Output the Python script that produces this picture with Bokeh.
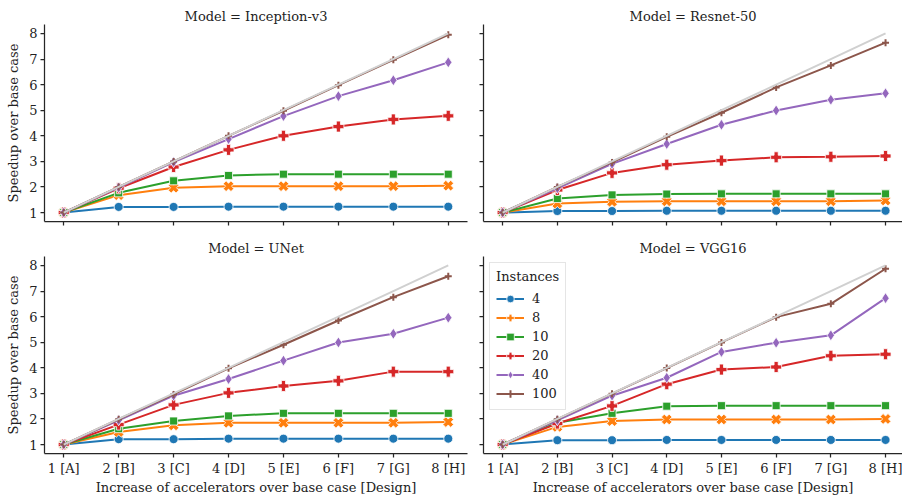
from bokeh.plotting import figure
from bokeh.layouts import gridplot
from bokeh.models import FixedTicker, Legend, LegendItem, Range1d
from bokeh.embed import file_html
from bokeh.resources import INLINE
import math

# ---------------- data ----------------
x_vals = [1, 2, 3, 4, 5, 6, 7, 8]
x_labels = ["1 [A]", "2 [B]", "3 [C]", "4 [D]", "5 [E]", "6 [F]", "7 [G]", "8 [H]"]
y_ticks = [1, 2, 3, 4, 5, 6, 7, 8]
ideal = [1, 2, 3, 4, 5, 6, 7, 8]
instances = ["4", "8", "10", "20", "40", "100"]
models = ["Inception-v3", "Resnet-50", "UNet", "VGG16"]

inception_v3 = {
    "4":   [1, 1.22, 1.22, 1.23, 1.23, 1.23, 1.23, 1.23],
    "8":   [1, 1.68, 1.97, 2.03, 2.03, 2.03, 2.03, 2.05],
    "10":  [1, 1.77, 2.24, 2.45, 2.50, 2.50, 2.50, 2.50],
    "20":  [1, 1.95, 2.78, 3.45, 4.00, 4.36, 4.64, 4.78],
    "40":  [1, 1.98, 2.97, 3.87, 4.77, 5.55, 6.17, 6.87],
    "100": [1, 2.00, 3.00, 4.00, 4.98, 5.98, 6.97, 7.95],
}
resnet_50 = {
    "4":   [1, 1.06, 1.06, 1.07, 1.07, 1.07, 1.07, 1.07],
    "8":   [1, 1.35, 1.42, 1.44, 1.44, 1.44, 1.44, 1.47],
    "10":  [1, 1.55, 1.69, 1.72, 1.73, 1.73, 1.73, 1.73],
    "20":  [1, 1.88, 2.55, 2.87, 3.03, 3.16, 3.18, 3.21],
    "40":  [1, 1.95, 2.90, 3.68, 4.43, 4.99, 5.41, 5.66],
    "100": [1, 2.00, 2.96, 3.96, 4.90, 5.89, 6.75, 7.64],
}
unet = {
    "4":   [1, 1.21, 1.21, 1.23, 1.23, 1.23, 1.23, 1.23],
    "8":   [1, 1.49, 1.75, 1.85, 1.85, 1.85, 1.85, 1.88],
    "10":  [1, 1.62, 1.92, 2.12, 2.22, 2.22, 2.22, 2.22],
    "20":  [1, 1.78, 2.55, 3.02, 3.29, 3.49, 3.85, 3.85],
    "40":  [1, 1.95, 2.91, 3.56, 4.28, 4.99, 5.33, 5.96],
    "100": [1, 1.99, 2.96, 3.98, 4.90, 5.85, 6.76, 7.58],
}
vgg16 = {
    "4":   [1, 1.17, 1.17, 1.18, 1.18, 1.18, 1.18, 1.18],
    "8":   [1, 1.69, 1.92, 1.98, 1.98, 1.98, 1.98, 2.00],
    "10":  [1, 1.85, 2.22, 2.50, 2.52, 2.52, 2.52, 2.52],
    "20":  [1, 1.82, 2.51, 3.36, 3.93, 4.03, 4.47, 4.53],
    "40":  [1, 1.95, 2.91, 3.61, 4.62, 4.98, 5.27, 6.72],
    "100": [1, 1.99, 2.99, 3.99, 4.99, 5.98, 6.50, 7.87],
}
model_data = [inception_v3, resnet_50, unet, vgg16]

# ---------------- styles ----------------
colors = ["#1f77b4", "#ff7f0e", "#2ca02c", "#d62728", "#9467bd", "#8c564b"]
markers = ["circle", "plus", "square", "plus", "diamond", "cross"]
angles = [0, math.pi / 4, 0, 0, 0, 0]
sizes = [9, 11, 8, 11, 11, 7]
FONT = "DejaVu Serif"
FS = "13px"
AX = "#262626"


def make(idx, left, bottom, with_legend=False):
    model = models[idx]
    data = model_data[idx]
    width = 475 if left else 427
    height = 232 if not bottom else 267
    x_end = 8.35 if left else 8.31
    p = figure(width=width, height=height,
               x_range=Range1d(0.65, x_end), y_range=Range1d(0.65, 8.35),
               output_backend="svg", toolbar_location=None,
               min_border_left=44 if left else 8,
               min_border_right=8 if left else 0,
               min_border_top=24,
               min_border_bottom=46 if bottom else 11)
    p.title.text = f"Model = {model}"
    p.title.align = "center"
    p.title.text_font = FONT
    p.title.text_font_size = FS
    p.title.text_font_style = "normal"
    p.title.text_color = "#222222"
    p.title.standoff = 2
    p.outline_line_color = None
    p.xgrid.visible = False
    p.ygrid.visible = False
    p.background_fill_color = "white"
    p.border_fill_color = "white"

    for ax in (p.xaxis[0], p.yaxis[0]):
        ax.axis_line_color = AX
        ax.axis_line_width = 1.25
        ax.major_tick_line_color = AX
        ax.major_tick_line_width = 1.25
        ax.major_tick_out = 4
        ax.major_tick_in = 0
        ax.minor_tick_out = 0
        ax.minor_tick_in = 0
        ax.major_label_text_font = FONT
        ax.major_label_text_font_size = FS
        ax.major_label_text_color = "#222222"
        ax.axis_label_text_font = FONT
        ax.axis_label_text_font_size = FS
        ax.axis_label_text_font_style = "normal"
        ax.axis_label_text_color = "#222222"
        ax.major_label_standoff = 3

    p.xaxis.ticker = FixedTicker(ticks=x_vals)
    p.yaxis.ticker = FixedTicker(ticks=y_ticks)
    if bottom:
        p.xaxis.major_label_overrides = {x: lab for x, lab in zip(x_vals, x_labels)}
        p.xaxis.axis_label = "Increase of accelerators over base case [Design]"
        p.xaxis.axis_label_standoff = 1
    else:
        p.xaxis.major_label_overrides = {x: "" for x in x_vals}
        p.xaxis.major_label_text_font_size = "0px"
    if left:
        p.yaxis.axis_label = "Speedup over base case"
        p.yaxis.axis_label_standoff = 5
    else:
        p.yaxis.major_label_overrides = {y: "" for y in y_ticks}
        p.yaxis.major_label_text_font_size = "0px"

    items = []
    for i, inst in enumerate(instances):
        ys = data[inst]
        lr = p.line(x_vals, ys, line_color=colors[i], line_width=2)
        if markers[i] == "cross":
            sr = p.scatter(x_vals, ys, marker="cross", size=sizes[i],
                           line_color=colors[i], line_width=2)
        else:
            sr = p.scatter(x_vals, ys, marker=markers[i], size=sizes[i], angle=angles[i],
                           fill_color=colors[i], line_color="white", line_width=0.8)
        items.append(LegendItem(label=inst, renderers=[lr, sr]))
    p.line(x_vals, ideal, line_color="#d0d0d0", line_width=2)

    if with_legend:
        leg = Legend(items=items, location="top_left", title="Instances")
        leg.title_text_font = FONT
        leg.title_text_font_size = FS
        leg.title_text_font_style = "normal"
        leg.title_text_color = "#222222"
        leg.label_text_font = FONT
        leg.label_text_font_size = FS
        leg.label_text_color = "#222222"
        leg.glyph_width = 28
        leg.glyph_height = 19
        leg.label_height = 19
        leg.label_standoff = 8
        leg.spacing = 0
        leg.padding = 6
        leg.margin = 6
        leg.border_line_color = "#cccccc"
        leg.border_line_width = 1
        leg.background_fill_alpha = 0.8
        p.add_layout(leg)
    return p


tl = make(0, True, False)
tr = make(1, False, False)
bl = make(2, True, True)
br = make(3, False, True, with_legend=True)

grid = gridplot([[tl, tr], [bl, br]], toolbar_location=None)

open("out.html", "w").write(file_html(grid, INLINE))
